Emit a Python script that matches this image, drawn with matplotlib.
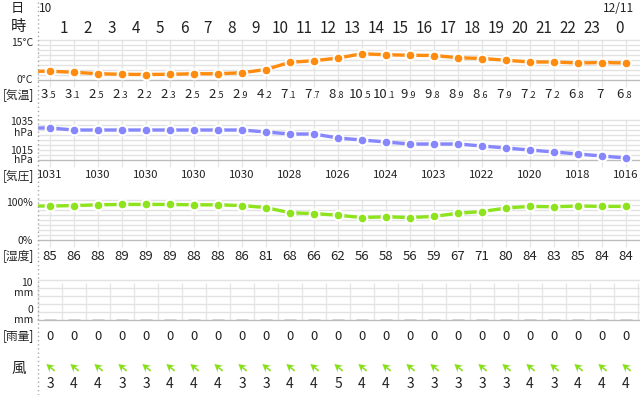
import matplotlib
matplotlib.use("Agg")
import matplotlib.pyplot as plt
import numpy as np
from matplotlib import transforms
from matplotlib.offsetbox import TextArea, HPacker, AnnotationBbox
from matplotlib.path import Path
from matplotlib.markers import MarkerStyle
from matplotlib.lines import Line2D

plt.rcParams['font.family'] = ['Noto Sans CJK JP', 'DejaVu Sans']

# ---------------- data ----------------
hours = list(range(25))
hour_labels = [str(h) for h in range(1, 24)] + ['0']
date_labels = ['10', '12/11']
temperature = [3.5, 3.1, 2.5, 2.3, 2.2, 2.3, 2.5, 2.5, 2.9, 4.2, 7.1, 7.7, 8.8,
               10.5, 10.1, 9.9, 9.8, 8.9, 8.6, 7.9, 7.2, 7.2, 6.8, 7.0, 6.8]
pressure = [1031, 1030, 1030, 1030, 1030, 1030, 1030, 1030, 1030, 1029, 1028, 1028, 1026,
            1025, 1024, 1023, 1023, 1023, 1022, 1021, 1020, 1019, 1018, 1017, 1016]
humidity = [85, 86, 88, 89, 89, 89, 88, 88, 86, 81, 68, 66, 62, 56, 58, 56, 59, 67,
            71, 80, 84, 83, 85, 84, 84]
rain = [0] * 25
wind_speed = [3, 4, 4, 3, 3, 4, 4, 4, 3, 3, 4, 4, 5, 4, 4, 3, 3, 3, 3, 3, 4, 3, 4, 4, 4]

# ---------------- layout ----------------
W, H = 640, 395
X0 = 38
fig = plt.figure(figsize=(W / 100, H / 100), dpi=100)
fig.patch.set_facecolor('white')

TXT = '#222222'
GRID = '#e2e2e2'
GRID_DARK = '#bdbdbd'
VGRID = '#e6e6e6'
C_T = '#ff8c0f'
C_P = '#8686ff'
C_H = '#8ee41c'
C_W = '#86e01a'

XMAX = (W - 50) / 24.0


def fy(p):
    return 1 - p / H


def panel(top, bottom, lo, hi, n):
    ax = fig.add_axes([X0 / W, 1 - bottom / H, (W - X0) / W, (bottom - top) / H])
    ax.set_xlim(-0.5, XMAX)
    ax.set_ylim(lo, hi)
    ax.axis('off')
    for k, yv in enumerate(np.linspace(lo, hi, n + 1)):
        ax.axhline(yv, color=GRID_DARK if k == 0 else GRID, lw=1.0,
                   zorder=1 if k else 2, clip_on=False)
    return ax


def series(ax, vals, color, ext):
    lo, hi = ax.get_ylim()
    ax.vlines(hours, lo - (hi - lo) * ext, hi, color=VGRID, lw=1, zorder=0, clip_on=False)
    ax.plot([ax.get_xlim()[0]] + hours, [vals[0]] + list(vals), color=color, lw=2.4,
            solid_capstyle='butt', zorder=3, clip_on=False)
    ax.plot(hours, vals, 'o', color=color, ms=7, mec='white', mew=1.5, zorder=4,
            clip_on=False)


ax_t = panel(40, 80, 0, 16, 8)
series(ax_t, temperature, C_T, 0.18)
ax_p = panel(120, 160, 1015, 1035, 8)
series(ax_p, pressure, C_P, 0.18)
ax_h = panel(200, 240, 0, 100, 8)
series(ax_h, humidity, C_H, 0.18)
ax_r = panel(280, 320, 0, 10, 5)
ax_r.vlines(np.array(hours + [25]) - 0.5, 0, 9.2, color=VGRID, lw=1, zorder=0, clip_on=False)
ax_r.bar(hours, rain, width=0.5, color='#7fb3ff', edgecolor='#c8c8c8', lw=1.8, zorder=3)

# wind axis
ax_w = fig.add_axes([X0 / W, 1 - 372 / H, (W - X0) / W, 10 / H])
ax_w.set_xlim(-0.5, XMAX)
ax_w.set_ylim(-1, 1)
ax_w.axis('off')
verts = [(1, 0), (-0.4, 0.75), (-0.05, 0.14), (-1, 0.14), (-1, -0.14), (-0.05, -0.14),
         (-0.4, -0.75), (1, 0)]
codes = [Path.MOVETO] + [Path.LINETO] * 6 + [Path.CLOSEPOLY]
arrow = MarkerStyle(Path(verts, codes), transform=transforms.Affine2D().rotate_deg(140))
ax_w.scatter(hours, [0] * len(hours), marker=arrow, s=62, color=C_W, lw=0, clip_on=False)

# dotted left border
fig.add_artist(Line2D([X0 / W, X0 / W], [0, 1], transform=fig.transFigure,
                      color='#a8a8a8', lw=1, ls=(0, (1, 2))))

trans = transforms.blended_transform_factory(ax_t.transData, fig.transFigure)

# ---------------- header ----------------
fig.text(17.5 / W, fy(8.5), '日', fontsize=9.5, color=TXT, ha='center', va='center')
fig.text(18 / W, fy(27), '時', fontsize=11, color=TXT, ha='center', va='center')
ax_t.text(-0.48, fy(12.5), date_labels[0], transform=trans, fontsize=8.5, color=TXT,
          ha='left', va='baseline')
ax_t.text(23.7, fy(12.5), date_labels[1], transform=trans, fontsize=8.5, color=TXT,
          ha='center', va='baseline')
for h, lab in zip(hours[1:], hour_labels):
    xo = h - 0.42 if h < 24 else h - 0.27
    ax_t.text(xo, fy(33), lab, transform=trans, fontsize=11, color=TXT,
              ha='center', va='baseline')

# ---------------- axis labels on the left ----------------
def left(y, s, fs=7.5):
    fig.text(33 / W, fy(y), s, fontsize=fs, color=TXT, ha='right', va='center')

left(43, '15°C')
left(80, '0°C')
left(122, '1035')
left(132.5, 'hPa')
left(150.5, '1015')
left(160, 'hPa')
left(203.5, '100%')
left(241, '0%')
left(283.5, '10')
left(293, 'mm')
left(310, '0')
left(320, 'mm')

for y, s in [(94.5, '[気温]'), (176, '[気圧]'), (256, '[湿度]'), (335.5, '[雨量]')]:
    fig.text(18.5 / W, fy(y), s, fontsize=8.5, color=TXT, ha='center', va='center')
fig.text(18.5 / W, fy(369), '風', fontsize=10.5, color=TXT, ha='center', va='center')

# ---------------- value rows ----------------
for i, v in enumerate(temperature):
    ip, dp = f"{v:.1f}".split('.')
    kids = [TextArea(ip, textprops=dict(fontsize=9.5, color=TXT))]
    if dp != '0':
        kids.append(TextArea('.' + dp, textprops=dict(fontsize=6.5, color=TXT)))
    box = HPacker(children=kids, align='baseline', pad=0, sep=0)
    ab = AnnotationBbox(box, (i - 0.08, fy(95)), xycoords=trans, frameon=False,
                        box_alignment=(0.5, 0.5), pad=0)
    fig.add_artist(ab)

for i, v in enumerate(pressure):
    if i % 2 == 0:
        ax_t.text(i, fy(178), str(v), transform=trans, fontsize=8.2, color=TXT,
                  ha='center', va='baseline')

for i, v in enumerate(humidity):
    ax_t.text(i, fy(260), str(v), transform=trans, fontsize=9.5, color=TXT,
              ha='center', va='baseline')

for i, v in enumerate(rain):
    ax_t.text(i, fy(340), str(v), transform=trans, fontsize=9.5, color=TXT,
              ha='center', va='baseline')

for i, v in enumerate(wind_speed):
    ax_t.text(i, fy(388), str(v), transform=trans, fontsize=10, color=TXT,
              ha='center', va='baseline')

fig.savefig('out.png', dpi=100)
